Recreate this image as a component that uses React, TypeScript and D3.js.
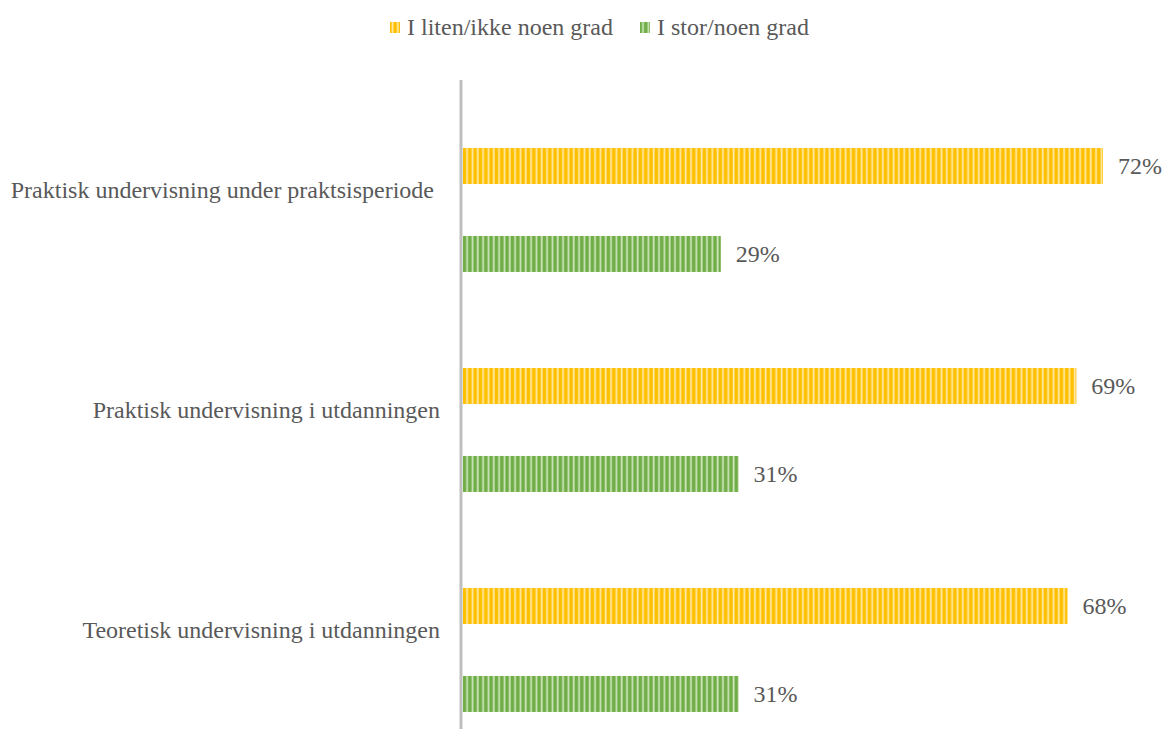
import React from "react";
import * as d3 from "d3";

const categories = [
  "Praktisk undervisning under praktsisperiode",
  "Praktisk undervisning i utdanningen",
  "Teoretisk undervisning i utdanningen",
];
const seriesNames = ["I liten/ikke noen grad", "I stor/noen grad"];
const lowValues = [72, 69, 68];
const highValues = [29, 31, 31];

const W = 1167;
const H = 729;
const axisX = 461;
const barStart = 463;

export default function App() {
  const x = d3.scaleLinear().domain([0, 72]).range([barStart, 1103]);
  const y = d3.scaleBand<string>().domain(categories).range([80, 740]);
  const inner = d3
    .scaleBand<string>()
    .domain(seriesNames)
    .range([0, y.bandwidth()])
    .paddingInner(0.591)
    .paddingOuter(0.5455)
    .align(0.708);

  const colors = [
    { id: "patY", dark: "#FFC000", mid: "#FFD34D", light: "#FFF2CC" },
    { id: "patG", dark: "#70AD47", mid: "#9BC97C", light: "#E2F0D9" },
  ];
  const values = [lowValues, highValues];
  const font = "'Liberation Serif', 'Times New Roman', serif";
  const grey = "#595959";
  const fs = 24;

  return (
    <svg width={W} height={H} style={{ position: "absolute", left: 0, top: 0 }}>
      <defs>
        {colors.map((c) => (
          <React.Fragment key={c.id}>
            <linearGradient id={c.id + "g"} x1="0" x2="1" y1="0" y2="0">
              <stop offset="0" stopColor={c.dark} />
              <stop offset="0.5" stopColor={c.dark} />
              <stop offset="0.62" stopColor={c.mid} />
              <stop offset="0.8" stopColor={c.light} />
              <stop offset="0.95" stopColor={c.mid} />
              <stop offset="1" stopColor={c.dark} />
            </linearGradient>
            <pattern id={c.id} patternUnits="userSpaceOnUse" width={5.33} height={10} x={barStart}>
              <rect width={5.33} height={10} fill={`url(#${c.id}g)`} />
            </pattern>
          </React.Fragment>
        ))}
      </defs>
      <rect width={W} height={H} fill="#fff" />

      {/* legend */}
      <g fontFamily={font} fontSize={fs} fill={grey}>
        <rect x={390} y={22} width={10} height={11} fill="url(#patY)" />
        <text x={407} y={35}>{seriesNames[0]}</text>
        <rect x={640} y={22} width={10} height={11} fill="url(#patG)" />
        <text x={657} y={35}>{seriesNames[1]}</text>
      </g>

      {/* bars */}
      {categories.map((cat, ci) => (
        <g key={cat}>
          {seriesNames.map((s, si) => {
            const v = values[si][ci];
            const by = (y(cat) as number) + (inner(s) as number);
            return (
              <g key={s}>
                <rect
                  x={x(0)}
                  y={by}
                  width={x(v) - x(0)}
                  height={inner.bandwidth()}
                  fill={`url(#${colors[si].id})`}
                />
                <text
                  x={x(v) + 15}
                  y={by + inner.bandwidth() / 2}
                  dy="0.35em"
                  fontFamily={font}
                  fontSize={fs}
                  fill={grey}
                >
                  {v}%
                </text>
              </g>
            );
          })}
          <text
            x={ci === 0 ? 434 : 440}
            y={(y(cat) as number) + y.bandwidth() / 2}
            dy="0.35em"
            textAnchor="end"
            fontFamily={font}
            fontSize={fs}
            fill={grey}
          >
            {cat}
          </text>
        </g>
      ))}

      {/* axis line */}
      <line x1={axisX} x2={axisX} y1={80} y2={729} stroke="#BFBFBF" strokeWidth={3} />
    </svg>
  );
}
